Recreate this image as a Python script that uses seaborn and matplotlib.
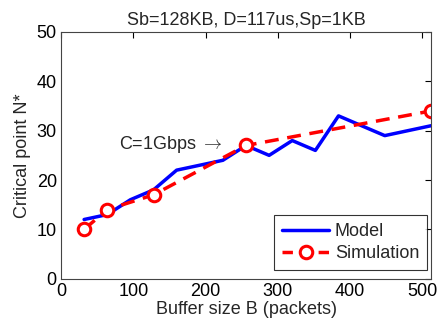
import matplotlib
matplotlib.use("Agg")
import matplotlib.pyplot as plt
from matplotlib.lines import Line2D
import seaborn as sns
import pandas as pd

model_x = [32, 64, 96, 128, 160, 224, 256, 288, 320, 352, 384, 448, 512]
model_y = [12, 13, 16, 18, 22, 24, 27, 25, 28, 26, 33, 29, 31]
sim_x = [32, 64, 128, 256, 512]
sim_y = [10, 14, 17, 27, 34]
x_ticks = [0, 100, 200, 300, 400, 500]
y_ticks = [0, 10, 20, 30, 40, 50]

sns.set_style("white")
plt.rcParams['font.family'] = ['Liberation Sans', 'DejaVu Sans']
plt.rcParams['mathtext.fontset'] = 'cm'

fig = plt.figure(figsize=(4.42, 3.28), dpi=100)
ax = fig.add_axes([61/442, 1 - 278.7/328, (431-61)/442, (278.7-32)/328])

dm = pd.DataFrame({"x": model_x, "y": model_y})
ds = pd.DataFrame({"x": sim_x, "y": sim_y})
sns.lineplot(data=dm, x="x", y="y", ax=ax, color="#0000ff", lw=2.5, legend=False)
sns.lineplot(data=ds, x="x", y="y", ax=ax, color="#ff0000", lw=2.5, legend=False,
             marker="o", markersize=9, markerfacecolor="white", markeredgecolor="#ff0000",
             markeredgewidth=2.2)
ax.lines[1].set_dashes([4, 2.5])
ax.set_xlim(0, 512)
ax.set_ylim(0, 50)
ax.set_xticks(x_ticks)
ax.set_yticks(y_ticks)
ax.tick_params(direction="in", top=True, right=True, labelsize=13, length=4, width=0.8, colors="black", pad=3)
for s in ax.spines.values():
    s.set_color("#444444")
    s.set_linewidth(0.8)
ax.set_xlabel("Buffer size B (packets)", fontsize=13, labelpad=1)
ax.set_ylabel("Critical point N*", fontsize=13, labelpad=4)
ax.set_title("Sb=128KB, D=117us,Sp=1KB", fontsize=13, pad=5)
ax.text(224, 27.1, r"C=1Gbps $\rightarrow$", fontsize=13, ha="right", va="center")

h_model = Line2D([], [], color="#0000ff", lw=2.5)
h_sim = Line2D([], [], color="#ff0000", lw=2.5, marker="o", markersize=9,
               markerfacecolor="white", markeredgecolor="#ff0000", markeredgewidth=2.2,
               dashes=[3, 2.2])
leg = ax.legend([h_model, h_sim], ["Model", "Simulation"], loc="lower right",
                bbox_to_anchor=(0.99, 0.035), fontsize=13, frameon=True, fancybox=False,
                edgecolor="black", handlelength=2.6, handletextpad=0.3,
                borderaxespad=0.0, labelspacing=0.25, borderpad=0.45)
leg.get_frame().set_linewidth(0.8)
fig.savefig("out.png", dpi=100)
